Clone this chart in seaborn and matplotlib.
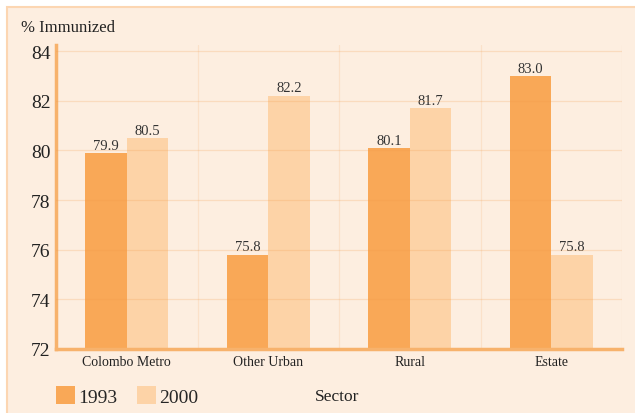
import pandas as pd
import matplotlib.pyplot as plt
import seaborn as sns
from matplotlib.patches import Rectangle

sectors = ['Colombo Metro', 'Other Urban', 'Rural', 'Estate']
years = ['1993', '2000']
vals_1993 = [79.9, 75.8, 80.1, 83.0]
vals_2000 = [80.5, 82.2, 81.7, 75.8]

bg = '#fdeee0'
c1993 = '#f9a857'
c2000 = '#fdd3a7'
edge = '#f7b26c'
grid_c = '#f29a48'

sns.set_style('white')
plt.rcParams['font.family'] = ['Liberation Serif', 'DejaVu Serif']

df = pd.DataFrame({
    'Sector': sectors * 2,
    'Year': [years[0]] * 4 + [years[1]] * 4,
    'Value': vals_1993 + vals_2000,
})

fig = plt.figure(figsize=(6.35, 4.14), dpi=100)
fig.patch.set_facecolor('white')
fig.patches.append(Rectangle((7 / 635, -0.01), 1.0, 1 - 8 / 414 + 0.01,
                             transform=fig.transFigure, facecolor=bg,
                             edgecolor='#fcd6b2', linewidth=1.5, zorder=-1))

ax = fig.add_axes([56 / 635, 1 - 350 / 414, 566 / 635, 304 / 414])
ax.set_zorder(1)
ax.set_facecolor(bg)

sns.barplot(data=df, x='Sector', y='Value', hue='Year', ax=ax,
            palette=[c1993, c2000], width=0.59, saturation=1,
            linewidth=0, legend=True, zorder=2)

for cont in ax.containers:
    ax.bar_label(cont, fmt='%.1f', fontsize=10.5, color='#333333', padding=1)

ax.set_ylim(72, 84.25)
ax.set_yticks([72, 74, 76, 78, 80, 82, 84])
ax.set_xlim(-0.5, 3.5)

ax.grid(False)
for y in [74, 76, 78, 80, 82, 84]:
    ax.axhline(y, color=grid_c, alpha=0.22, lw=0.9, zorder=3)
for x in [0.5, 1.5, 2.5, 3.5]:
    ax.axvline(x, color=grid_c, alpha=0.15, lw=0.9, zorder=3)

for s in ['top', 'right']:
    ax.spines[s].set_visible(False)
ax.spines['left'].set_color(edge)
ax.spines['left'].set_linewidth(2.5)
ax.spines['bottom'].set_color(edge)
ax.spines['bottom'].set_linewidth(2.5)
ax.spines['bottom'].set_zorder(4)

ax.tick_params(axis='y', length=0, labelsize=14, colors='#222222', pad=4)
ax.tick_params(axis='x', length=0, labelsize=10, colors='#222222', pad=4)
ax.set_xlabel('')
ax.set_ylabel('')

handles, labels = ax.get_legend_handles_labels()
ax.get_legend().remove()
fig.legend(handles, labels, loc='center left',
           bbox_to_anchor=(56 / 635, 1 - 397 / 414), ncol=2, frameon=False,
           fontsize=14, handlelength=1.0, handleheight=1.0, borderpad=0,
           borderaxespad=0, handletextpad=0.15, columnspacing=1.0)

fig.text(337 / 635, 1 - 397 / 414, 'Sector', ha='center', va='center',
         fontsize=12.5, color='#222222')
fig.text(21 / 635, 1 - 28 / 414, '% Immunized', ha='left', va='center',
         fontsize=12, color='#222222')

fig.savefig('out.png', dpi=100, facecolor=fig.get_facecolor())
